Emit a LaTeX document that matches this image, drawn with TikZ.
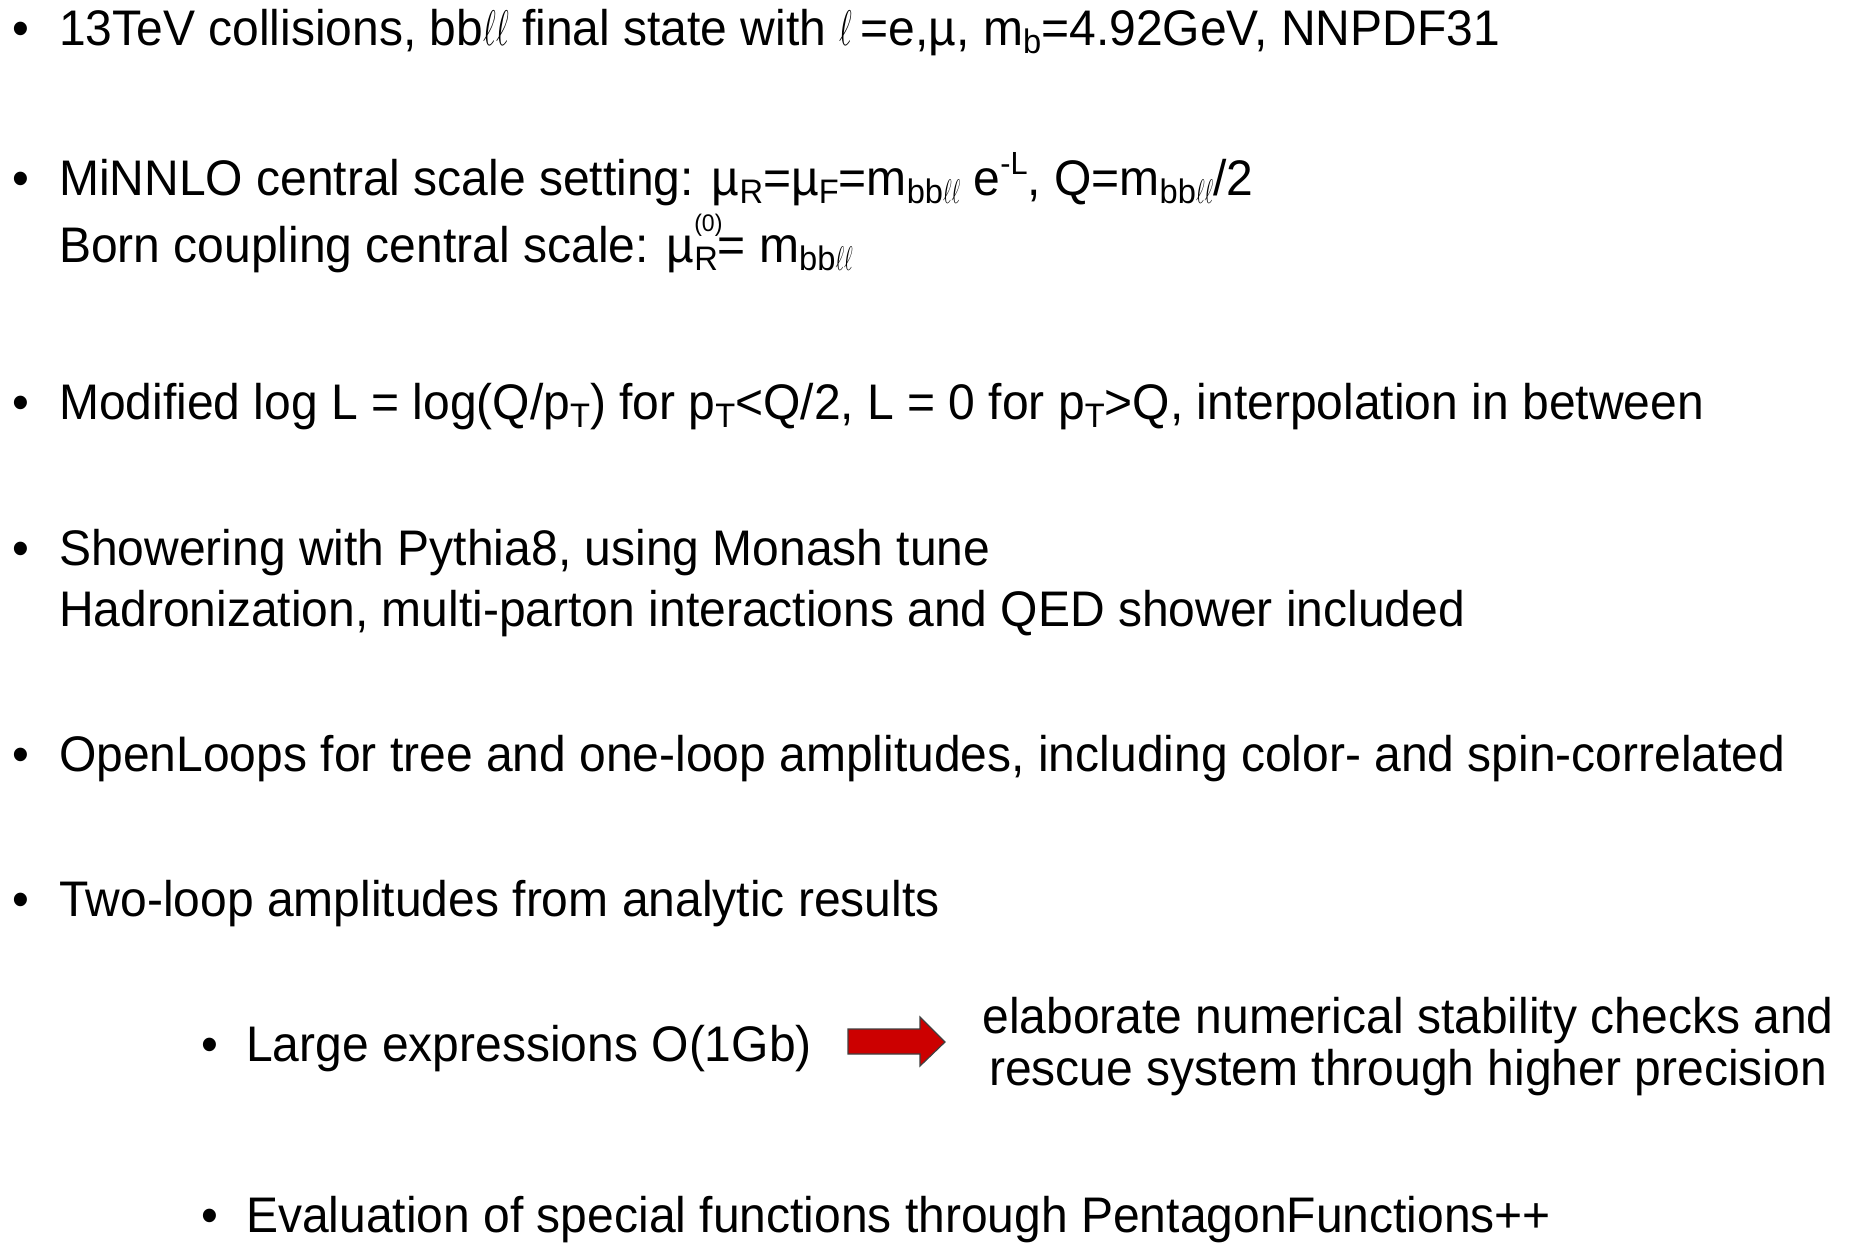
\RequirePackage{fix-cm}
\documentclass[tikz,border=0pt]{standalone}
\usepackage{fontspec}
\setmainfont{Liberation Sans}[FakeStretch=0.96]
\newcommand\myell{\scalebox{0.62}[1]{$\ell$}}
\newcommand\lo[1]{\raisebox{-0.17em}{\fontsize{34}{34}\selectfont #1}}
\newcommand\hi[1]{\raisebox{0.42em}{\fontsize{32}{32}\selectfont #1}}
\newcommand\tinyhi[1]{\raisebox{0.62em}{\fontsize{24}{24}\selectfont #1}}
\definecolor{arrowred}{HTML}{CC0000}
\begin{document}
\begin{tikzpicture}[x=1pt,y=-1pt,
  txt/.style={anchor=base west,inner sep=0pt,font=\fontsize{50}{60}\selectfont},
  bul/.style={anchor=base,inner sep=0pt,font=\fontsize{50}{60}\selectfont}]
\useasboundingbox (0,0) rectangle (1849,1242);
% bullets
\foreach \n/\x/\y in {b1/21/45, b2/21/195, b3/21/419, b4/21/565, b5/21/771, b6/21/916, b7/210/1061, b8/210/1232}
  \node[bul] (\n) at (\x,\y) {•};
\node[txt] (t1) at (59,45) {13TeV collisions, bb\myell\myell\ final state with \myell\,=e,µ, m\lo{b}=4.92GeV, NNPDF31};
\node[txt] (t2) at (59,195) {MiNNLO central scale setting: µ\lo{R}=µ\lo{F}=m\lo{bb\myell\myell} e\hi{-L}, Q=m\lo{bb\myell\myell}/2};
\node[txt] (t3) at (59,262) {Born coupling central scale: µ\rlap{\tinyhi{(0)}}\lo{R}= m\lo{bb\myell\myell}};
\node[txt] (t4) at (59,419) {Modified log L = log(Q/p\lo{T}) for p\lo{T}<Q/2, L = 0 for p\lo{T}>Q, interpolation in between};
\node[txt] (t5) at (59,565) {Showering with Pythia8, using Monash tune};
\node[txt] (t6) at (59,626) {Hadronization, multi-parton interactions and QED shower included};
\node[txt] (t7) at (59,771) {OpenLoops for tree and one-loop amplitudes, including color- and spin-correlated};
\node[txt] (t8) at (59,916) {Two-loop amplitudes from analytic results};
\node[txt] (t9) at (246,1061) {Large expressions O(1Gb)};
\node[txt] (t10) at (246,1232) {Evaluation of special functions through PentagonFunctions++};
\node[anchor=base,inner sep=0pt,font=\fontsize{50}{60}\selectfont] (r1) at (1408,1033) {elaborate numerical stability checks and};
\node[anchor=base,inner sep=0pt,font=\fontsize{50}{60}\selectfont] (r2) at (1408,1085) {rescue system through higher precision};
% arrow
\draw[draw=black!75,fill=arrowred,line width=1.2pt]
  (848,1029) -- (920,1029) -- (920,1017) -- (945,1042) -- (920,1066) -- (920,1054) -- (848,1054) -- cycle;
\end{tikzpicture}
\end{document}
